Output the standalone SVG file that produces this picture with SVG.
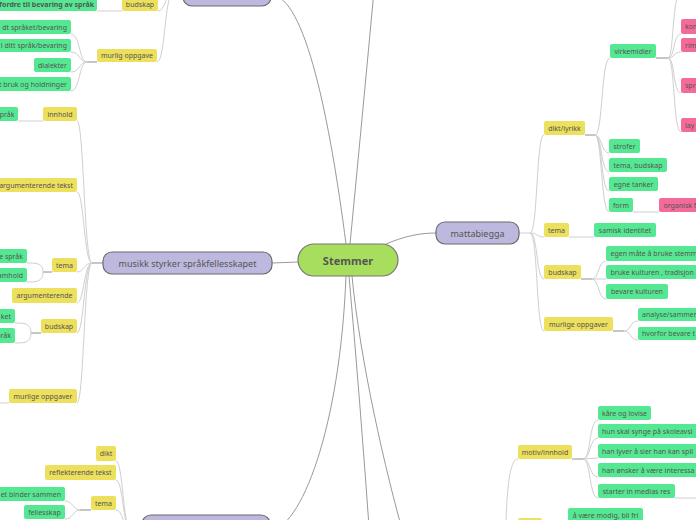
<svg xmlns="http://www.w3.org/2000/svg" width="696" height="520" viewBox="0 0 696 520">
<style>
.y{fill:#ece05c}
.g{fill:#55e892}
.p{fill:#f36a9b}
.l{fill:#bdb8dd;stroke:#6b6b6b;stroke-width:1.2}
.c{fill:none;stroke:#cfcfcf;stroke-width:1}
.h{fill:none;stroke:#a8a8a8;stroke-width:1.3}
.m{fill:none;stroke:#9a9a9a;stroke-width:1}
text{font-family:"Noto Sans","Open Sans",sans-serif;fill:#555}
.t{font-size:7px}
.tm{font-size:7px;text-anchor:middle}
.te{font-size:7px;text-anchor:end}
.lt{font-size:9px;text-anchor:middle;fill:#555}
</style>
<rect width="696" height="520" fill="#ffffff"/>
<g id="connectors">
<path class="m" d="M386,244 C405,236 420,233 436,233"/>
<path class="m" d="M272,263 L298,262"/>
<path class="m" d="M346,244 C330,120 305,-5 271,-5"/>
<path class="m" d="M350,244 Q362,120 375,-20"/>
<path class="m" d="M346,276 C340,430 300,530 270,530"/>
<path class="m" d="M349,276 Q360,400 370,540"/>
<path class="m" d="M352,276 C360,360 385,470 405,540"/>
<path class="c" d="M519,233 L530,233"/>
<path class="c" d="M530,233 C538,233 536,135 544,135"/>
<path class="c" d="M530,233 C537,233 537,237 544,237"/>
<path class="c" d="M530,233 C538,233 536,279 544,279"/>
<path class="c" d="M530,233 C538,233 536,331 544,331"/>
<path class="h" d="M585,135 L595,135"/>
<path class="c" d="M595,135 C603,135 601,58 610,58"/>
<path class="c" d="M595,135 C602,135 601,153 609,153"/>
<path class="c" d="M595,135 C602,135 601,172 609,172"/>
<path class="c" d="M595,135 C602,135 601,191 609,191"/>
<path class="c" d="M595,135 C602,135 601,212 609,212"/>
<path class="c" d="M633,212 L659,212"/>
<path class="h" d="M656,58 L668,58"/>
<path class="c" d="M668,58 C674,58 672,-8 681,-8"/>
<path class="c" d="M668,58 C675,58 673,34 681,34"/>
<path class="c" d="M668,58 C675,58 673,52 681,52"/>
<path class="c" d="M668,58 C675,58 673,93 681,93"/>
<path class="c" d="M668,58 C675,58 673,132 681,132"/>
<path class="c" d="M569,237 L594,237"/>
<path class="h" d="M581,279 L592,279"/>
<path class="c" d="M592,279 C599,279 598,261 606,261"/>
<path class="c" d="M592,279 L606,279"/>
<path class="c" d="M592,279 C599,279 598,299 606,299"/>
<path class="h" d="M613,331 L624,331"/>
<path class="c" d="M624,331 C631,331 630,321 638,321"/>
<path class="c" d="M624,331 C631,331 630,340 638,340"/>
<path class="h" d="M572,459 L583,459"/>
<path class="c" d="M583,459 C591,459 589,420 598,420"/>
<path class="c" d="M583,459 C591,459 589,438 598,438"/>
<path class="c" d="M583,459 L598,458"/>
<path class="c" d="M583,459 C591,459 589,477 598,477"/>
<path class="c" d="M583,459 C591,459 589,498 598,498"/>
<path class="c" d="M675,498 L700,498"/>
<path class="c" d="M505,560 C506,500 508,459 518,459"/>
<path class="h" d="M103,263 L92,263"/>
<path class="c" d="M92,263 C84,263 84,121 77,121"/>
<path class="c" d="M92,263 C84,263 84,192 77,192"/>
<path class="c" d="M92,263 C84,263 84,272 77,272"/>
<path class="c" d="M92,263 C84,263 84,303 77,303"/>
<path class="c" d="M92,263 C84,263 84,333 77,333"/>
<path class="c" d="M92,263 C84,263 84,403 77,403"/>
<path class="c" d="M43,121 L18,121"/>
<path class="h" d="M52,272 L43,272"/>
<path class="c" d="M43,272 C43,263 36,263 27,263"/>
<path class="c" d="M43,272 C43,282 36,282 27,282"/>
<path class="h" d="M41,333 L31,333"/>
<path class="c" d="M31,333 C31,323 24,323 15,323"/>
<path class="c" d="M31,333 C31,343 24,343 15,343"/>
<path class="c" d="M9,403 L-5,403"/>
<path class="h" d="M183,-5 L172,-5"/>
<path class="c" d="M172,-5 C165,-5 165,11 158,11"/>
<path class="c" d="M172,-5 C165,-5 165,62 157,62"/>
<path class="c" d="M122,11 L97,11"/>
<path class="h" d="M97,62 L87,62"/>
<path class="c" d="M87,62 C79,62 80,34 71,34"/>
<path class="c" d="M87,62 C79,62 80,52 71,52"/>
<path class="c" d="M87,62 C79,62 80,72 71,72"/>
<path class="c" d="M87,62 C79,62 80,91 71,91"/>
<path class="h" d="M142,528 L130,528"/>
<path class="c" d="M130,528 C123,528 123,461 116,461"/>
<path class="c" d="M130,528 C123,528 123,480 116,480"/>
<path class="c" d="M130,528 C123,528 123,510 116,510"/>
<path class="h" d="M91,510 L80,510"/>
<path class="c" d="M80,510 C73,510 73,501 65,501"/>
<path class="c" d="M80,510 C73,510 73,519 65,519"/>
</g>
<g id="stemmer"><rect x="298" y="244" width="100" height="32" rx="16" fill="#a8de5e" stroke="#777" stroke-width="1.2"/><text x="348" y="264.5" font-size="11" font-weight="bold" text-anchor="middle" fill="#4a4a4a">Stemmer</text></g>
<g id="mattabiegga"><rect class="l" x="436" y="222" width="83" height="22" rx="9"/><text class="lt" x="477.5" y="236.5">mattabiegga</text></g>
<g id="musikk"><rect class="l" x="103" y="252" width="169" height="22" rx="9"/><text class="lt" x="187.5" y="266.5">musikk styrker språkfellesskapet</text></g>
<g id="top-main"><rect class="l" x="183" y="-17" width="88" height="23" rx="9"/></g>
<g id="bottom-main"><rect class="l" x="142" y="515" width="128" height="24" rx="9"/></g>

<g id="dikt-lyrikk"><rect class="y" x="544" y="121" width="41" height="14" rx="2"/><text class="tm" x="564.5" y="130.5">dikt/lyrikk</text></g>
<g id="virkemidler"><rect class="g" x="610" y="44" width="46" height="14" rx="2"/><text class="tm" x="633" y="53.5">virkemidler</text></g>
<g id="kon"><rect class="p" x="681" y="19" width="30" height="15" rx="2"/><text class="t" x="685" y="29">kon</text></g>
<g id="rim"><rect class="p" x="681" y="38" width="30" height="14" rx="2"/><text class="t" x="685" y="47.5">rim</text></g>
<g id="spr"><rect class="p" x="681" y="78" width="30" height="15" rx="2"/><text class="t" x="685" y="88">spr</text></g>
<g id="lay"><rect class="p" x="681" y="118" width="30" height="14" rx="2"/><text class="t" x="685" y="127.5">lay</text></g>
<g id="strofer"><rect class="g" x="609" y="139" width="31" height="14" rx="2"/><text class="tm" x="624.5" y="148.5">strofer</text></g>
<g id="tema-budskap"><rect class="g" x="609" y="158" width="58" height="14" rx="2"/><text class="tm" x="638" y="167.5">tema, budskap</text></g>
<g id="egne-tanker"><rect class="g" x="609" y="177" width="49" height="14" rx="2"/><text class="tm" x="633.5" y="186.5">egne tanker</text></g>
<g id="form"><rect class="g" x="609" y="198" width="24" height="14" rx="2"/><text class="tm" x="621" y="207.5">form</text></g>
<g id="organisk"><rect class="p" x="659" y="198" width="50" height="14" rx="2"/><text class="t" x="663.5" y="207.5">organisk f</text></g>
<g id="tema-r"><rect class="y" x="544" y="223" width="25" height="14" rx="2"/><text class="tm" x="556.5" y="232.5">tema</text></g>
<g id="samisk"><rect class="g" x="594" y="223" width="62" height="14" rx="2"/><text class="tm" x="625" y="232.5">samisk identitet</text></g>
<g id="budskap-r"><rect class="y" x="544" y="265" width="37" height="14" rx="2"/><text class="tm" x="562.5" y="274.5">budskap</text></g>
<g id="egen-maate"><rect class="g" x="606" y="246" width="100" height="15" rx="2"/><text class="t" x="610.5" y="256">egen måte å bruke stemm</text></g>
<g id="bruke-kulturen"><rect class="g" x="606" y="265" width="100" height="14" rx="2"/><text class="t" x="610.5" y="274.5">bruke kulturen , tradisjon</text></g>
<g id="bevare-kulturen"><rect class="g" x="606" y="284" width="62" height="15" rx="2"/><text class="tm" x="637" y="294">bevare kulturen</text></g>
<g id="murlige-r"><rect class="y" x="544" y="317" width="69" height="14" rx="2"/><text class="tm" x="578.5" y="326.5">murlige oppgaver</text></g>
<g id="analyse"><rect class="g" x="638" y="308" width="70" height="13" rx="2"/><text class="t" x="642" y="317">analyse/sammen</text></g>
<g id="hvorfor"><rect class="g" x="638" y="327" width="70" height="13" rx="2"/><text class="t" x="642" y="336">hvorfor bevare t</text></g>

<g id="motiv"><rect class="y" x="518" y="445" width="54" height="14" rx="2"/><text class="tm" x="545" y="454.5">motiv/innhold</text></g>
<g id="kaare"><rect class="g" x="598" y="406" width="53" height="14" rx="2"/><text class="tm" x="624.5" y="415.5">kåre og lovise</text></g>
<g id="hun-skal"><rect class="g" x="598" y="424" width="110" height="14" rx="2"/><text class="t" x="602" y="433.5">hun skal synge på skoleavsl</text></g>
<g id="han-lyver"><rect class="g" x="598" y="444" width="110" height="14" rx="2"/><text class="t" x="602" y="453.5">han lyver å sier han kan spil</text></g>
<g id="han-onsker"><rect class="g" x="598" y="463" width="110" height="14" rx="2"/><text class="t" x="602" y="472.5">han ønsker å være interessa</text></g>
<g id="starter"><rect class="g" x="598" y="484" width="77" height="14" rx="2"/><text class="tm" x="636.5" y="493.5">starter in medias res</text></g>
<g id="bottom-yellow"><rect class="y" x="518" y="518" width="24" height="14" rx="2"/></g>
<g id="modig"><rect class="g" x="568" y="508" width="75" height="14" rx="2"/><text class="tm" x="605.5" y="517.5">å være modig, bli fri</text></g>

<g id="innhold"><rect class="y" x="43" y="107" width="34" height="14" rx="2"/><text class="tm" x="60" y="116.5">innhold</text></g>
<g id="spraak1"><rect class="g" x="-20" y="107" width="38" height="14" rx="2"/><text class="te" x="14.5" y="116.5">språk</text></g>
<g id="arg-tekst"><rect class="y" x="-10" y="178" width="87" height="14" rx="2"/><text class="te" x="73" y="187.5">argumenterende tekst</text></g>
<g id="tema-l"><rect class="y" x="52" y="258" width="25" height="14" rx="2"/><text class="tm" x="64.5" y="267.5">tema</text></g>
<g id="e-spraak"><rect class="g" x="-30" y="249" width="57" height="14" rx="2"/><text class="te" x="23" y="258.5">e språk</text></g>
<g id="samhold"><rect class="g" x="-30" y="268" width="57" height="14" rx="2"/><text class="te" x="23" y="277.5">samhold</text></g>
<g id="arg"><rect class="y" x="12" y="288" width="65" height="15" rx="2"/><text class="tm" x="44.5" y="298">argumenterende</text></g>
<g id="budskap-l"><rect class="y" x="41" y="319" width="36" height="14" rx="2"/><text class="tm" x="59" y="328.5">budskap</text></g>
<g id="ket"><rect class="g" x="-30" y="309" width="45" height="14" rx="2"/><text class="te" x="11" y="318.5">ket</text></g>
<g id="spraak2"><rect class="g" x="-30" y="328" width="45" height="15" rx="2"/><text class="te" x="11" y="338">språk</text></g>
<g id="murlige-l"><rect class="y" x="9" y="389" width="68" height="14" rx="2"/><text class="tm" x="43" y="398.5">murlige oppgaver</text></g>

<g id="budskap-t"><rect class="y" x="122" y="-3" width="36" height="14" rx="2"/><text class="tm" x="140" y="6.5">budskap</text></g>
<g id="fordre"><rect class="g" x="-30" y="-3" width="127" height="14" rx="2"/><text class="te" x="94" y="6.5" font-weight="bold" fill="#333">fordre til bevaring av språk</text></g>
<g id="murlig-t"><rect class="y" x="97" y="49" width="60" height="13" rx="2"/><text class="tm" x="127" y="58">murlig oppgave</text></g>
<g id="sprak-bev"><rect class="g" x="-20" y="20" width="91" height="14" rx="2"/><text class="te" x="67" y="29.5">dt språket/bevaring</text></g>
<g id="ditt-sprak"><rect class="g" x="-20" y="39" width="91" height="13" rx="2"/><text class="te" x="67" y="48">l ditt språk/bevaring</text></g>
<g id="dialekter"><rect class="g" x="34" y="58" width="37" height="14" rx="2"/><text class="tm" x="52.5" y="67.5">dialekter</text></g>
<g id="holdninger"><rect class="g" x="-20" y="77" width="91" height="14" rx="2"/><text class="te" x="67" y="86.5">t bruk og holdninger</text></g>

<g id="dikt"><rect class="y" x="96" y="446" width="20" height="15" rx="2"/><text class="tm" x="106" y="456">dikt</text></g>
<g id="reflekterende"><rect class="y" x="45" y="465" width="71" height="15" rx="2"/><text class="tm" x="80.5" y="475">reflekterende tekst</text></g>
<g id="tema-b"><rect class="y" x="91" y="496" width="25" height="14" rx="2"/><text class="tm" x="103.5" y="505.5">tema</text></g>
<g id="binder"><rect class="g" x="-20" y="487" width="85" height="14" rx="2"/><text class="te" x="61" y="496.5">et binder sammen</text></g>
<g id="fellesskap"><rect class="g" x="24" y="505" width="41" height="14" rx="2"/><text class="tm" x="44.5" y="514.5">fellesskap</text></g>
</svg>
